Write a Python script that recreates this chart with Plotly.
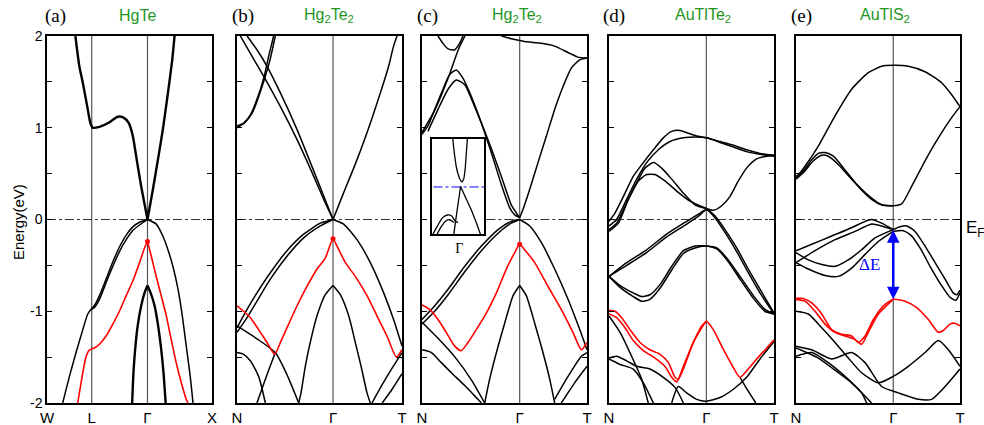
import plotly.graph_objects as go

# ---------------- data (k: fractional path coordinate, E: energy in eV) ----------------
PANEL_LABELS = ["(a)", "(b)", "(c)", "(d)", "(e)"]
PANEL_TITLES = ["HgTe", "Hg<sub>2</sub>Te<sub>2</sub>", "Hg<sub>2</sub>Te<sub>2</sub>",
                "AuTlTe<sub>2</sub>", "AuTlS<sub>2</sub>"]
KPOINT_POS = [[0, 0.271, 0.609, 1], [0, 0.582, 1], [0, 0.592, 1], [0, 0.590, 1], [0, 0.593, 1]]
KPOINT_LBL = [["W", "L", "Γ", "X"], ["N", "Γ", "T"], ["N", "Γ", "T"], ["N", "Γ", "T"], ["N", "Γ", "T"]]
Y_TICKS = [-2, -1, 0, 1, 2]
Y_TICK_TEXT = ["-2", "-1", "0", "1", "2"]

# (a) HgTe
HGTE_THICK = [
    ([0.172, 0.196, 0.217, 0.247, 0.263, 0.277, 0.318, 0.379, 0.429, 0.464, 0.496, 0.520, 0.544, 0.571, 0.609],
     [2.00, 1.67, 1.49, 1.20, 1.05, 1.00, 1.01, 1.06, 1.12, 1.11, 1.05, 0.91, 0.65, 0.36, 0.0]),
    ([0.609, 0.642, 0.672, 0.702, 0.733, 0.759, 0.773],
     [0.0, 0.33, 0.65, 0.98, 1.38, 1.74, 2.0]),
    ([0.609, 0.591, 0.571, 0.551, 0.536, 0.524, 0.516],
     [-0.72, -0.80, -0.94, -1.14, -1.38, -1.67, -2.0]),
    ([0.609, 0.628, 0.652, 0.672, 0.690, 0.706, 0.719],
     [-0.72, -0.80, -0.94, -1.14, -1.38, -1.67, -2.0]),
]
HGTE_THIN = [
    ([0.609, 0.561, 0.520, 0.480, 0.439, 0.399, 0.358, 0.318, 0.287, 0.271, 0.247, 0.217, 0.176, 0.136, 0.095],
     [0.0, -0.03, -0.08, -0.17, -0.30, -0.46, -0.65, -0.83, -0.94, -0.97, -1.03, -1.20, -1.45, -1.71, -2.0]),
    ([0.609, 0.561, 0.520, 0.480, 0.439, 0.399, 0.358, 0.318, 0.287, 0.271],
     [0.0, -0.06, -0.12, -0.22, -0.35, -0.51, -0.69, -0.87, -0.96, -0.98]),
    ([0.609, 0.662, 0.702, 0.733, 0.763, 0.794, 0.820, 0.844, 0.868, 0.885],
     [0.0, -0.05, -0.18, -0.33, -0.51, -0.76, -1.05, -1.38, -1.71, -2.0]),
]
HGTE_RED = [
    ([0.186, 0.213, 0.233, 0.253, 0.271, 0.287, 0.318, 0.358, 0.399, 0.439, 0.480, 0.520, 0.561, 0.591, 0.609],
     [-2.0, -1.71, -1.52, -1.43, -1.41, -1.40, -1.36, -1.27, -1.14, -1.0, -0.83, -0.67, -0.47, -0.31, -0.24]),
    ([0.609, 0.632, 0.662, 0.692, 0.723, 0.753, 0.783, 0.814, 0.844, 0.854],
     [-0.24, -0.40, -0.62, -0.83, -1.05, -1.31, -1.56, -1.78, -1.96, -2.0]),
]

# (b) Hg2Te2
B_BLACK = [
    ([0, 0.040, 0.081, 0.121, 0.162, 0.192, 0.222], [1.02, 1.05, 1.14, 1.31, 1.54, 1.78, 2.0]),
    ([0, 0.050, 0.095, 0.135, 0.170, 0.200, 0.232], [1.00, 1.06, 1.17, 1.36, 1.55, 1.74, 2.0]),
    ([0.020, 0.081, 0.162, 0.263, 0.364, 0.465, 0.525, 0.582], [2.0, 1.81, 1.56, 1.23, 0.87, 0.47, 0.22, 0.0]),
    ([0.061, 0.121, 0.182, 0.263, 0.364, 0.465, 0.582], [2.0, 1.85, 1.67, 1.38, 0.98, 0.53, 0.0]),
    ([0.582, 0.646, 0.727, 0.808, 0.869, 0.919, 0.949, 0.970], [0.0, 0.29, 0.65, 1.05, 1.38, 1.67, 1.89, 2.0]),
    ([0.582, 0.505, 0.404, 0.303, 0.202, 0.121, 0.061, 0], [0.0, -0.04, -0.16, -0.34, -0.58, -0.80, -0.98, -1.18]),
    ([0.582, 0.505, 0.404, 0.303, 0.202, 0.121, 0.061, 0], [0.0, -0.07, -0.20, -0.40, -0.65, -0.89, -1.07, -1.23]),
    ([0.582, 0.646, 0.727, 0.808, 0.889, 0.949, 1.0], [0.0, -0.05, -0.22, -0.47, -0.80, -1.09, -1.38]),
    ([0.582, 0.535, 0.485, 0.444, 0.414, 0.388, 0.374], [-0.72, -0.82, -1.05, -1.34, -1.60, -1.89, -2.0]),
    ([0.582, 0.626, 0.677, 0.717, 0.752, 0.788, 0.808], [-0.72, -0.82, -1.05, -1.34, -1.60, -1.89, -2.0]),
    ([0.818, 0.880, 0.940, 1.0], [-2.0, -1.80, -1.62, -1.45]),
    ([0.880, 0.940, 1.0], [-2.0, -1.85, -1.68]),
    ([0, 0.040, 0.081, 0.131, 0.172], [-1.45, -1.47, -1.54, -1.71, -2.0]),
    ([0, 0.121, 0.232, 0.300, 0.374], [-1.16, -1.30, -1.45, -1.68, -2.0]),
    ([0.121, 0.180, 0.232], [-2.0, -1.70, -1.45]),
]
B_RED = [
    ([0, 0.040, 0.081, 0.131, 0.182, 0.228, 0.263, 0.313, 0.364, 0.424, 0.485, 0.535, 0.566, 0.582,
      0.606, 0.657, 0.717, 0.788, 0.848, 0.909, 0.966, 1.0],
     [-0.94, -1.0, -1.07, -1.20, -1.34, -1.47, -1.34, -1.14, -0.94, -0.73, -0.54, -0.42, -0.27, -0.21,
      -0.29, -0.47, -0.62, -0.83, -1.05, -1.27, -1.50, -1.42]),
]

# (c) Hg2Te2
C_BLACK = [
    ([0.481, 0.541, 0.622, 0.723, 0.804, 0.885, 0.945, 1.0], [2.0, 1.97, 1.94, 1.92, 1.89, 1.82, 1.77, 1.76]),
    ([1.0, 0.956, 0.905, 0.855, 0.804, 0.754, 0.703, 0.653, 0.612, 0.592],
     [1.76, 1.74, 1.65, 1.45, 1.20, 0.91, 0.62, 0.33, 0.11, 0.02]),
    ([0.592, 0.562, 0.531, 0.481, 0.420, 0.360, 0.299, 0.248, 0.208, 0.168, 0.127, 0.077, 0.036, 0],
     [0.02, 0.05, 0.13, 0.38, 0.73, 1.05, 1.34, 1.54, 1.63, 1.58, 1.42, 1.20, 1.02, 0.93]),
    ([0.036, 0.097, 0.158, 0.208, 0.259, 0.319, 0.400, 0.481, 0.541, 0.592],
     [0.96, 1.20, 1.42, 1.52, 1.47, 1.23, 0.87, 0.47, 0.16, 0.02]),
    ([0, 0.080, 0.160, 0.220, 0.260], [0.95, 1.20, 1.55, 1.85, 2.0]),
    ([0.097, 0.127, 0.158, 0.198, 0.228, 0.248], [2.0, 1.92, 1.86, 1.85, 1.92, 2.0]),
    ([0.592, 0.541, 0.461, 0.360, 0.259, 0.158, 0.077, 0], [0.0, -0.02, -0.11, -0.29, -0.51, -0.76, -0.94, -1.09]),
    ([0.592, 0.541, 0.461, 0.360, 0.259, 0.158, 0.077, 0], [0.0, -0.04, -0.15, -0.34, -0.57, -0.82, -1.0, -1.14]),
    ([0.592, 0.653, 0.723, 0.804, 0.885, 0.956, 1.0], [0.0, -0.07, -0.25, -0.54, -0.87, -1.20, -1.42]),
    ([0.592, 0.552, 0.501, 0.451, 0.410, 0.380], [-0.72, -0.83, -1.13, -1.45, -1.74, -2.0]),
    ([0.592, 0.632, 0.683, 0.733, 0.774, 0.804], [-0.72, -0.83, -1.13, -1.45, -1.74, -2.0]),
    ([0.804, 0.885, 0.966, 1.0], [-1.96, -1.71, -1.49, -1.45]),
    ([0.844, 0.925, 1.0], [-2.0, -1.78, -1.60]),
    ([0, 0.057, 0.117, 0.178, 0.259, 0.339, 0.360], [-1.42, -1.45, -1.56, -1.67, -1.81, -1.96, -2.0]),
    ([0, 0.100, 0.200, 0.300, 0.380], [-1.12, -1.30, -1.50, -1.75, -2.0]),
]
C_RED = [
    ([0, 0.046, 0.097, 0.147, 0.198, 0.238, 0.279, 0.329, 0.390, 0.451, 0.511, 0.562, 0.592,
      0.622, 0.683, 0.764, 0.844, 0.915, 0.966, 1.0],
     [-0.93, -0.98, -1.09, -1.23, -1.38, -1.43, -1.34, -1.20, -1.02, -0.80, -0.54, -0.36, -0.27,
      -0.33, -0.47, -0.73, -0.98, -1.23, -1.42, -1.34]),
]
C_FERMI_K = [0.39, 1.0]

# inset of (c): relative coordinates 0..1
INSET_GAMMA = 0.525
INSET_FERMI = 0.495
INSET_LINES = [
    ([0.40, 0.43, 0.47, 0.52, 0.57, 0.61, 0.64, 0.66, 0.68], [1.0, 0.85, 0.70, 0.60, 0.55, 0.58, 0.70, 0.85, 1.0]),
    ([0.55, 0.65, 0.75, 0.85, 0.93], [0.50, 0.38, 0.26, 0.12, 0.0]),
    ([0.55, 0.51, 0.47, 0.44, 0.42], [0.50, 0.35, 0.20, 0.08, 0.0]),
    ([0.02, 0.10, 0.20, 0.30, 0.38, 0.44, 0.50], [0.0, 0.08, 0.17, 0.20, 0.19, 0.14, 0.12]),
    ([0.10, 0.18, 0.27, 0.34, 0.42], [0.0, 0.08, 0.14, 0.15, 0.12]),
]

# (d) AuTlTe2
D_BLACK = [
    ([0, 0.036, 0.087, 0.147, 0.208, 0.269, 0.329, 0.380, 0.430, 0.481, 0.531, 0.590, 0.673, 0.754, 0.834, 0.915, 1.0],
     [-0.02, 0.07, 0.25, 0.47, 0.62, 0.76, 0.89, 0.96, 0.97, 0.94, 0.91, 0.89, 0.85, 0.81, 0.76, 0.72, 0.70]),
    ([0, 0.046, 0.107, 0.168, 0.228, 0.299, 0.370, 0.450, 0.531, 0.590, 0.673, 0.754, 0.834, 0.915, 1.0],
     [-0.07, 0.0, 0.22, 0.44, 0.62, 0.76, 0.85, 0.89, 0.90, 0.89, 0.84, 0.79, 0.74, 0.71, 0.69]),
    ([0, 0.046, 0.107, 0.168, 0.218, 0.269, 0.319, 0.380, 0.450, 0.521, 0.590],
     [-0.11, -0.04, 0.18, 0.40, 0.56, 0.62, 0.56, 0.44, 0.29, 0.16, 0.12]),
    ([0, 0.057, 0.117, 0.178, 0.228, 0.279, 0.339, 0.410, 0.491, 0.590],
     [-0.13, -0.04, 0.22, 0.42, 0.49, 0.49, 0.42, 0.31, 0.20, 0.12]),
    ([0.590, 0.632, 0.683, 0.733, 0.784, 0.834, 0.895, 0.956, 1.0],
     [0.12, 0.10, 0.15, 0.25, 0.42, 0.56, 0.66, 0.69, 0.70]),
    ([0, 0.107, 0.228, 0.349, 0.471, 0.552, 0.590, 0.642, 0.703, 0.774, 0.844, 0.915, 1.0],
     [-0.62, -0.47, -0.33, -0.16, -0.02, 0.07, 0.11, 0.04, -0.11, -0.31, -0.54, -0.76, -1.02]),
    ([0, 0.107, 0.228, 0.349, 0.471, 0.552, 0.590, 0.642, 0.703, 0.774, 0.844, 0.915, 1.0],
     [-0.62, -0.50, -0.36, -0.19, -0.05, 0.05, 0.11, 0.02, -0.14, -0.35, -0.58, -0.80, -1.03]),
    ([0, 0.067, 0.147, 0.198, 0.248, 0.309, 0.380, 0.451, 0.521, 0.590, 0.653, 0.723, 0.794, 0.875, 0.945, 1.0],
     [-0.62, -0.72, -0.80, -0.84, -0.82, -0.71, -0.51, -0.34, -0.29, -0.29, -0.31, -0.44, -0.62, -0.83, -0.98, -1.03]),
    ([0, 0.067, 0.147, 0.198, 0.248, 0.309, 0.380, 0.451, 0.521, 0.590, 0.653, 0.723, 0.794, 0.875, 0.945, 1.0],
     [-0.62, -0.74, -0.84, -0.89, -0.87, -0.75, -0.55, -0.37, -0.31, -0.29, -0.32, -0.46, -0.65, -0.86, -1.0, -1.03]),
    ([0, 0.067, 0.137, 0.198, 0.238], [-1.05, -1.23, -1.49, -1.74, -2.0]),
    ([0, 0.046, 0.107, 0.168, 0.248, 0.329, 0.400, 0.451], [-1.51, -1.49, -1.54, -1.60, -1.63, -1.72, -1.83, -2.0]),
    ([0, 0.067, 0.147, 0.208, 0.269], [-1.52, -1.58, -1.63, -1.78, -2.0]),
    ([0.380, 0.420, 0.471, 0.531, 0.590, 0.673, 0.754, 0.834, 0.915, 1.0],
     [-2.0, -1.82, -1.89, -1.96, -1.98, -1.94, -1.85, -1.72, -1.52, -1.33]),
    ([0.794, 0.840, 0.890], [-1.72, -1.86, -2.0]),
]
D_RED = [
    ([0, 0.036, 0.077, 0.127, 0.188, 0.248, 0.309, 0.360, 0.400, 0.420, 0.461, 0.511, 0.562, 0.590,
      0.632, 0.683, 0.743, 0.794, 0.844, 0.895, 0.956, 1.0],
     [-0.99, -1.0, -1.07, -1.20, -1.34, -1.42, -1.47, -1.56, -1.72, -1.74, -1.58, -1.34, -1.18, -1.11,
      -1.20, -1.38, -1.58, -1.72, -1.63, -1.52, -1.40, -1.31]),
    ([0, 0.046, 0.097, 0.147, 0.208, 0.279, 0.339, 0.380, 0.410, 0.451, 0.511, 0.562, 0.590],
     [-1.03, -1.07, -1.18, -1.32, -1.43, -1.51, -1.60, -1.72, -1.77, -1.60, -1.34, -1.16, -1.11]),
]

# (e) AuTlS2
E_BLACK = [
    ([0, 0.055, 0.136, 0.238, 0.339, 0.441, 0.522, 0.593, 0.685, 0.787, 0.888, 0.949, 1.0],
     [0.45, 0.58, 0.80, 1.13, 1.42, 1.60, 1.67, 1.68, 1.67, 1.61, 1.49, 1.36, 1.23]),
    ([0, 0.045, 0.096, 0.136, 0.177, 0.228, 0.299, 0.380, 0.461, 0.522, 0.593, 0.644, 0.705, 0.787, 0.868, 0.949, 1.0],
     [0.47, 0.53, 0.65, 0.72, 0.73, 0.69, 0.54, 0.36, 0.22, 0.16, 0.15, 0.17, 0.36, 0.64, 0.89, 1.11, 1.23]),
    ([0, 0.055, 0.106, 0.157, 0.197, 0.258, 0.339, 0.430, 0.522, 0.593],
     [0.44, 0.53, 0.64, 0.70, 0.69, 0.60, 0.44, 0.28, 0.16, 0.15]),
    ([0, 0.096, 0.218, 0.339, 0.421, 0.461, 0.522, 0.593], [-0.34, -0.27, -0.18, -0.09, -0.02, 0.0, -0.04, -0.11]),
    ([0, 0.116, 0.238, 0.360, 0.461, 0.522, 0.593], [-0.47, -0.34, -0.22, -0.13, -0.05, -0.07, -0.11]),
    ([0.593, 0.634, 0.675, 0.726, 0.787, 0.848, 0.909, 0.959, 0.980, 1.0],
     [-0.11, -0.08, -0.07, -0.13, -0.29, -0.47, -0.65, -0.80, -0.82, -0.77]),
    ([0.593, 0.650, 0.700, 0.760, 0.820, 0.880, 0.940, 0.975, 1.0],
     [-0.13, -0.12, -0.17, -0.32, -0.52, -0.70, -0.85, -0.88, -0.80]),
    ([0, 0.075, 0.157, 0.238, 0.319, 0.400, 0.482, 0.593], [-0.36, -0.44, -0.49, -0.51, -0.44, -0.33, -0.20, -0.11]),
    ([0, 0.075, 0.177, 0.258, 0.339, 0.421, 0.502, 0.593], [-0.47, -0.54, -0.61, -0.62, -0.53, -0.38, -0.24, -0.13]),
    ([0, 0.075, 0.157, 0.238, 0.319, 0.400, 0.502, 0.593, 0.685, 0.787, 0.868, 0.929, 1.0],
     [-1.0, -1.03, -1.18, -1.34, -1.51, -1.67, -1.78, -1.71, -1.60, -1.45, -1.32, -1.42, -1.60]),
    ([0, 0.096, 0.217, 0.339, 0.421, 0.522, 0.624, 0.746, 0.827, 0.909, 1.0],
     [-1.38, -1.42, -1.52, -1.45, -1.56, -1.82, -1.89, -1.96, -1.96, -1.82, -1.63]),
    ([0, 0.096, 0.197, 0.299, 0.380, 0.461], [-1.49, -1.45, -1.56, -1.71, -1.85, -2.0]),
    ([0, 0.136, 0.258, 0.339, 0.400, 0.431], [-1.40, -1.51, -1.67, -1.78, -1.89, -2.0]),
]
E_RED = [
    ([0, 0.045, 0.096, 0.157, 0.217, 0.278, 0.339, 0.380, 0.421, 0.472, 0.533, 0.593,
      0.665, 0.736, 0.807, 0.868, 0.898, 0.939, 0.970, 1.0],
     [-0.86, -0.86, -0.91, -1.03, -1.20, -1.25, -1.27, -1.34, -1.27, -1.09, -0.94, -0.87,
      -0.89, -0.96, -1.09, -1.23, -1.21, -1.14, -1.13, -1.16]),
    ([0, 0.055, 0.116, 0.177, 0.238, 0.299, 0.360, 0.400, 0.441, 0.502, 0.593],
     [-0.87, -0.89, -1.0, -1.14, -1.23, -1.27, -1.31, -1.36, -1.23, -1.03, -0.87]),
]
GAP_TOP = -0.10
GAP_BOTTOM = -0.87

BLACK_SETS = [HGTE_THIN, B_BLACK, C_BLACK, D_BLACK, E_BLACK]
RED_SETS = [HGTE_RED, B_RED, C_RED, D_RED, E_RED]

# ---------------- layout geometry ----------------
W, H = 984, 425
PANEL_PX = [(47, 212), (237, 402), (422, 587), (609, 774), (796, 960)]
Y_TOP_PX, Y_BOT_PX = 36, 403
ydom = [1 - Y_BOT_PX / H, 1 - Y_TOP_PX / H]
GREEN = "rgb(30,150,30)"
SANS = "Liberation Sans, Arial, sans-serif"
SERIF = "Liberation Serif, Times New Roman, serif"

fig = go.Figure()


def add_line(i, ks, es, color="black", width=1.5, dash=None, shape="spline"):
    sfx = "" if i == 1 else str(i)
    fig.add_trace(go.Scatter(x=ks, y=es, mode="lines", xaxis="x" + sfx, yaxis="y" + sfx,
                             line=dict(color=color, width=width, dash=dash, shape=shape, smoothing=0.6),
                             hoverinfo="skip", showlegend=False))


for i in range(1, 6):
    sfx = "" if i == 1 else str(i)
    x0, x1 = PANEL_PX[i - 1]
    fig.update_layout(**{
        "xaxis" + sfx: dict(domain=[x0 / W, x1 / W], range=[0, 1], anchor="y" + sfx, automargin=False,
                            tickvals=KPOINT_POS[i - 1], ticktext=KPOINT_LBL[i - 1],
                            ticks="", showgrid=False, zeroline=False, showline=True, mirror=True,
                            linecolor="black", linewidth=1.5,
                            tickfont=dict(family=SANS, size=15, color="black")),
        "yaxis" + sfx: dict(domain=ydom, range=[-2, 2], anchor="x" + sfx, automargin=False,
                            tickvals=Y_TICKS, ticktext=Y_TICK_TEXT, showticklabels=(i == 1),
                            ticks="inside", ticklen=5, tickcolor="black", tickwidth=1,
                            minor=dict(ticks="inside", ticklen=5, tickcolor="black", tickwidth=1,
                                       dtick=0.5, tick0=0, showgrid=False),
                            showgrid=False, zeroline=False, showline=True, mirror="ticks",
                            linecolor="black", linewidth=1.5,
                            tickfont=dict(family=SANS, size=14, color="black")),
    })
    # high-symmetry vertical lines
    for kv in KPOINT_POS[i - 1][1:-1]:
        fig.add_shape(type="line", xref="x" + sfx, yref="y" + sfx + " domain", x0=kv, x1=kv, y0=0, y1=1,
                      line=dict(color="#555555", width=1.2), layer="below")
    # Fermi level
    if i == 3:
        add_line(i, C_FERMI_K, [0, 0], color="#333333", width=1, dash="dashdot", shape="linear")
    else:
        add_line(i, [0, 1], [0, 0], color="#333333", width=1, dash="dashdot", shape="linear")

# bands
for ks, es in HGTE_THICK:
    add_line(1, ks, es, width=2.4)
for i in range(5):
    for ks, es in BLACK_SETS[i]:
        add_line(i + 1, ks, es, width=1.5)
    for ks, es in RED_SETS[i]:
        add_line(i + 1, ks, es, color="red", width=1.6)

# thicker red tops at Gamma for (a)-(c)
for i in range(3):
    ks, es = RED_SETS[i][0]
    j = es.index(max(es))
    sfx = "" if i == 0 else str(i + 1)
    fig.add_trace(go.Scatter(x=[ks[j]], y=[es[j]], mode="markers", xaxis="x" + sfx, yaxis="y" + sfx,
                             marker=dict(color="red", size=5), hoverinfo="skip", showlegend=False))

# inset in (c)
IN_X = (432, 484)
IN_Y = (139, 234)
fig.update_layout(
    xaxis6=dict(domain=[IN_X[0] / W, IN_X[1] / W], range=[0, 1], anchor="y6", automargin=False,
                tickvals=[INSET_GAMMA], ticktext=["Γ"], ticks="", showgrid=False, zeroline=False,
                showline=True, mirror=True, linecolor="black", linewidth=1.5,
                tickfont=dict(family=SERIF, size=14, color="black")),
    yaxis6=dict(domain=[1 - IN_Y[1] / H, 1 - IN_Y[0] / H], range=[0, 1], anchor="x6", automargin=False,
                showticklabels=False, ticks="", showgrid=False, zeroline=False,
                showline=True, mirror=True, linecolor="black", linewidth=1.5),
)
fig.add_shape(type="line", xref="x6", yref="y6 domain", x0=INSET_GAMMA, x1=INSET_GAMMA, y0=0, y1=1,
              line=dict(color="#333333", width=1), layer="below")
add_line(6, [0.03, 1.0], [INSET_FERMI, INSET_FERMI], color="blue", width=1, dash="dashdot", shape="linear")
for ks, es in INSET_LINES:
    add_line(6, ks, es, width=1.3)

# gap arrow in (e)
g = KPOINT_POS[4][1]
fig.add_annotation(x=g, y=GAP_BOTTOM, ax=g, ay=GAP_TOP, xref="x5", yref="y5", axref="x5", ayref="y5",
                   showarrow=True, arrowhead=2, startarrowhead=2, arrowside="end+start",
                   arrowsize=1, arrowwidth=2.5, arrowcolor="blue", text="")
fig.add_annotation(x=0.45, y=(GAP_TOP + GAP_BOTTOM) / 2, xref="x5", yref="y5", text="ΔE", showarrow=False,
                   xanchor="center", yanchor="middle",
                   font=dict(family=SERIF, size=17, color="blue"))
fig.add_annotation(x=964 / W, y=0, xref="paper", yref="y5", text="E<sub>F</sub>", showarrow=False,
                   xanchor="left", yanchor="top", yshift=4,
                   font=dict(family=SANS, size=17, color="black"))

# titles / labels
LABEL_X = [55, 243, 427, 614, 801]
TITLE_X = [137, 329, 517, 703, 885]
for i in range(5):
    fig.add_annotation(x=LABEL_X[i] / W, y=1 - 16 / H, xref="paper", yref="paper", text=PANEL_LABELS[i],
                       showarrow=False, xanchor="center", yanchor="middle",
                       font=dict(family=SERIF, size=19, color="black"))
    fig.add_annotation(x=TITLE_X[i] / W, y=1 - 16 / H, xref="paper", yref="paper", text=PANEL_TITLES[i],
                       showarrow=False, xanchor="center", yanchor="middle",
                       font=dict(family=SANS, size=16, color=GREEN))
fig.add_annotation(x=18 / W, y=1 - 222 / H, xref="paper", yref="paper", text="Energy(eV)", textangle=-90,
                   showarrow=False, xanchor="center", yanchor="middle",
                   font=dict(family=SANS, size=15, color="black"))

fig.update_layout(width=W, height=H, margin=dict(l=0, r=0, t=0, b=0, autoexpand=False),
                  paper_bgcolor="white", plot_bgcolor="white", showlegend=False)

fig.write_html("out.html")
